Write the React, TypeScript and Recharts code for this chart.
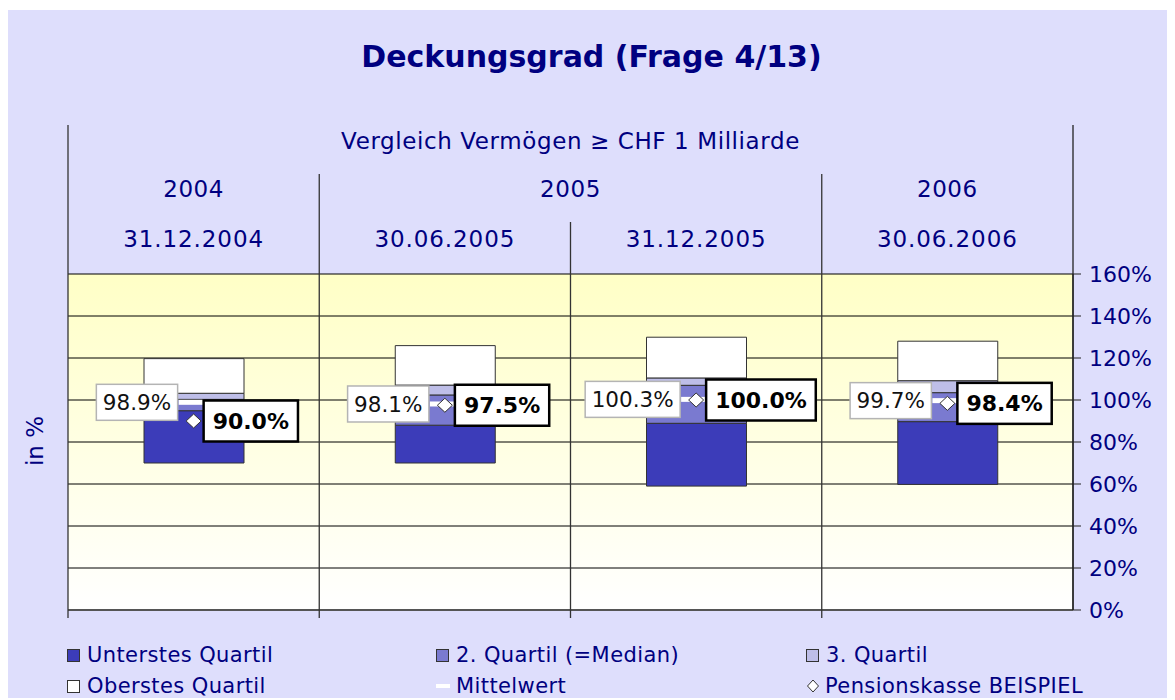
import React from 'react';
import { ComposedChart, Bar, Line, XAxis, YAxis, CartesianGrid, ReferenceLine } from 'recharts';

// categories (multi-level header)
const groupTitle = 'Vergleich Vermögen ≥ CHF 1 Milliarde';
const years = ['2004', '2005', '2005', '2006'];
const dates = ['31.12.2004', '30.06.2005', '31.12.2005', '30.06.2006'];

// quartile boundaries in %
const minimum = [70.0, 70.0, 59.0, 59.8];
const quartile1 = [94.9, 88.0, 88.9, 89.7];
const median = [100.3, 102.4, 107.0, 103.5];
const quartile3 = [103.2, 107.1, 110.5, 109.2];
const maximum = [119.7, 125.9, 129.9, 128.0];

const mittelwert = [98.9, 98.1, 100.3, 99.7];
const pensionskasse = [90.0, 97.5, 100.0, 98.4];

const yTicks = [0, 20, 40, 60, 80, 100, 120, 140, 160];

const legendNames = [
    'Unterstes Quartil',
    '2. Quartil (=Median)',
    '3. Quartil',
    'Oberstes Quartil',
    'Mittelwert',
    'Pensionskasse BEISPIEL',
];

const NAVY = '#000080';
const BG = '#dedefc';
const COLORS = ['#3c3cb9', '#7a7ad0', '#bebee8', '#ffffff'];
const FONT = '"DejaVu Sans", Verdana, sans-serif';
const HEADER_FS = 23;

const W = 1167;
const H = 690;
const margin = { top: 114, right: 42, left: 60, bottom: 90 };
const AXIS_TOP_H = 150;
const Y_AXIS_W = 60;
const PLOT_BOTTOM = H - margin.bottom;
const PLOT_W = W - margin.left - margin.right - Y_AXIS_W;
const BAND = PLOT_W / dates.length;

const data = dates.map((d, i) => ({
    date: d,
    base: minimum[i],
    q1: +(quartile1[i] - minimum[i]).toFixed(2),
    q2: +(median[i] - quartile1[i]).toFixed(2),
    q3: +(quartile3[i] - median[i]).toFixed(2),
    q4: +(maximum[i] - quartile3[i]).toFixed(2),
    mean: mittelwert[i],
    pk: pensionskasse[i],
}));

const fmt = (v: number) => v.toFixed(1) + '%';

// rough DejaVu Sans advance widths (em)
function textWidth(s: string, bold: boolean, size: number) {
    let w = 0;
    for (const c of s) {
        if (c === '.') w += bold ? 0.38 : 0.318;
        else if (c === '%') w += bold ? 1.002 : 0.95;
        else w += bold ? 0.696 : 0.636;
    }
    return w * size;
}

function HeaderTick(props: any) {
    const { x, index } = props;
    const n = dates.length;
    const left = x - BAND / 2;
    let lineTop = 212;
    if (index === 0) lineTop = 115;
    else if (years[index] !== years[index - 1]) lineTop = 164;

    let yearLabel = null;
    if (index === 0 || years[index] !== years[index - 1]) {
        let j = index;
        while (j + 1 < n && years[j + 1] === years[index]) j++;
        const cx = x + ((j - index) * BAND) / 2;
        yearLabel = (
            <text x={cx} y={179} dy="0.35em" textAnchor="middle" fontSize={HEADER_FS} fill={NAVY} letterSpacing={0.6}>
                {years[index]}
            </text>
        );
    }

    return (
        <g>
            {index === 0 && (
                <text
                    x={x + ((n - 1) * BAND) / 2}
                    y={131}
                    dy="0.35em"
                    textAnchor="middle"
                    fontSize={HEADER_FS}
                    fill={NAVY}
                    letterSpacing={0.6}
                >
                    {groupTitle}
                </text>
            )}
            {yearLabel}
            <text x={x} y={229} dy="0.35em" textAnchor="middle" fontSize={HEADER_FS} fill={NAVY} letterSpacing={0.9}>
                {dates[index]}
            </text>
            <line x1={left} x2={left} y1={lineTop} y2={PLOT_BOTTOM + 8} stroke="#333" strokeWidth={1.3} />
            {index === n - 1 && (
                <line x1={left + BAND} x2={left + BAND} y1={115} y2={PLOT_BOTTOM} stroke="#222" strokeWidth={1.3} />
            )}
        </g>
    );
}

function MeanDot(props: any) {
    const { cx, cy, payload, index } = props;
    if (cx == null || cy == null) return <g key={`m-${index}`} />;
    const label = fmt(payload.mean);
    const w = textWidth(label, false, 21.5) + 13;
    const h = 36;
    const right = cx - 16;
    return (
        <g key={`m-${index}`}>
            <rect x={cx - 15} y={cy - 2.5} width={25} height={5} fill="#ffffff" />
            <rect x={right - w} y={cy - h / 2} width={w} height={h} fill="#ffffff" stroke="#b4b4b4" strokeWidth={1.5} />
            <text x={right - w / 2} y={cy} dy="0.36em" textAnchor="middle" fontSize={21.5} fill="#111">
                {label}
            </text>
        </g>
    );
}

function PkDot(props: any) {
    const { cx, cy, payload, index } = props;
    if (cx == null || cy == null) return <g key={`p-${index}`} />;
    const label = fmt(payload.pk);
    const w = textWidth(label, true, 22) + 18;
    const h = 41;
    const left = cx + 10;
    return (
        <g key={`p-${index}`}>
            <path
                d={`M${cx},${cy - 7} L${cx + 7.5},${cy} L${cx},${cy + 7} L${cx - 7.5},${cy} Z`}
                fill="#ffffff"
                stroke="#333"
                strokeWidth={1}
            />
            <rect x={left} y={cy - h / 2} width={w} height={h} fill="#ffffff" stroke="#000" strokeWidth={2.5} />
            <text x={left + w / 2} y={cy} dy="0.36em" textAnchor="middle" fontSize={22} fontWeight="bold" fill="#000">
                {label}
            </text>
        </g>
    );
}

function LegendMarker({ i }: { i: number }) {
    if (i < 4) {
        return (
            <span
                style={{
                    display: 'inline-block',
                    width: 11,
                    height: 11,
                    background: COLORS[i],
                    border: '1px solid #333',
                    marginRight: 7,
                }}
            />
        );
    }
    if (i === 4) {
        return <span style={{ display: 'inline-block', width: 14, height: 4, background: '#fff', marginRight: 6, verticalAlign: 'middle' }} />;
    }
    return (
        <svg width={14} height={14} style={{ marginRight: 5, verticalAlign: 'middle' }}>
            <path d="M7,1 L12.5,7 L7,13 L1.5,7 Z" fill="#fff" stroke="#333" strokeWidth={1} />
        </svg>
    );
}

const legendCols = [59, 428, 798];
const legendRows = [645, 676];

export default function App() {
    return (
        <div style={{ position: 'relative', top: 2, width: W, height: H, background: BG, fontFamily: FONT }}>
            <div
                style={{
                    position: 'absolute',
                    top: 30,
                    left: 0,
                    width: W,
                    textAlign: 'center',
                    fontSize: 30,
                    lineHeight: '34px',
                    fontWeight: 'bold',
                    color: NAVY,
                }}
            >
                Deckungsgrad (Frage 4/13)
            </div>
            <div
                style={{
                    position: 'absolute',
                    left: 27 - 30,
                    top: 431 - 13,
                    width: 60,
                    height: 26,
                    lineHeight: '26px',
                    textAlign: 'center',
                    fontSize: 23,
                    color: NAVY,
                    transform: 'rotate(-90deg)',
                }}
            >
                in %
            </div>
            <ComposedChart width={W} height={H} data={data} margin={margin} barSize={100}>
                <defs>
                    <linearGradient id="plotBg" x1="0" y1="0" x2="0" y2="1">
                        <stop offset="0%" stopColor="#ffffc6" />
                        <stop offset="100%" stopColor="#ffffff" />
                    </linearGradient>
                </defs>
                <CartesianGrid vertical={false} stroke="#000" fill="url(#plotBg)" fillOpacity={1} />
                <XAxis
                    dataKey="date"
                    orientation="top"
                    height={AXIS_TOP_H}
                    axisLine={false}
                    tickLine={false}
                    interval={0}
                    tick={HeaderTick}
                />
                <YAxis
                    orientation="right"
                    type="number"
                    domain={[0, 160]}
                    ticks={yTicks}
                    width={Y_AXIS_W}
                    tickFormatter={(v: number) => `${v}%`}
                    axisLine={{ stroke: '#222', strokeWidth: 1.3 }}
                    tickLine={{ stroke: '#222' }}
                    tickSize={8}
                    tickMargin={8}
                    tick={{ fill: NAVY, fontSize: 22 }}
                />
                <ReferenceLine y={0} stroke="#555" strokeWidth={2} />
                <Bar dataKey="base" stackId="a" fill="none" stroke="none" isAnimationActive={false} />
                <Bar dataKey="q1" stackId="a" fill={COLORS[0]} stroke="#333" strokeWidth={1} isAnimationActive={false} />
                <Bar dataKey="q2" stackId="a" fill={COLORS[1]} stroke="#333" strokeWidth={1} isAnimationActive={false} />
                <Bar dataKey="q3" stackId="a" fill={COLORS[2]} stroke="#333" strokeWidth={1} isAnimationActive={false} />
                <Bar dataKey="q4" stackId="a" fill={COLORS[3]} stroke="#333" strokeWidth={1} isAnimationActive={false} />
                <Line dataKey="mean" stroke="none" dot={MeanDot} activeDot={false} isAnimationActive={false} />
                <Line dataKey="pk" stroke="none" dot={PkDot} activeDot={false} isAnimationActive={false} />
            </ComposedChart>
            {legendNames.map((name, i) => (
                <div
                    key={name}
                    style={{
                        position: 'absolute',
                        left: legendCols[i % 3],
                        top: legendRows[Math.floor(i / 3)] - 13,
                        height: 26,
                        lineHeight: '26px',
                        fontSize: 21,
                        letterSpacing: 0.4,
                        color: NAVY,
                        display: 'flex',
                        alignItems: 'center',
                        whiteSpace: 'nowrap',
                    }}
                >
                    <LegendMarker i={i} />
                    {name}
                </div>
            ))}
        </div>
    );
}
